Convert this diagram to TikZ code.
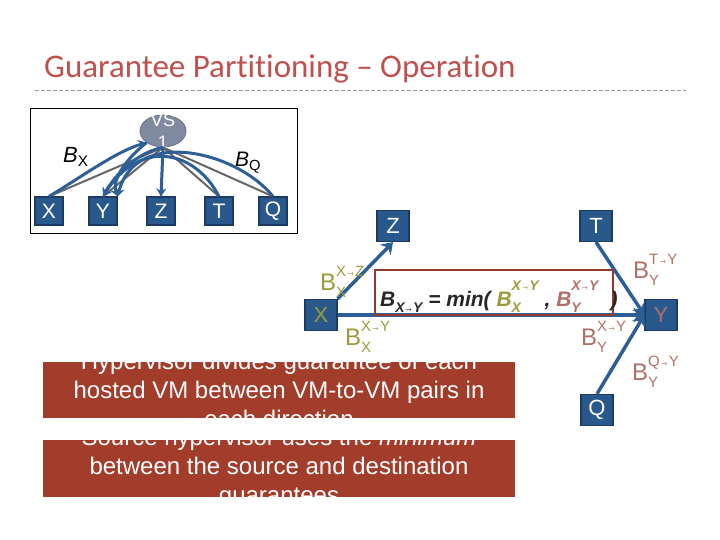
\documentclass[tikz,border=0pt]{standalone}
\usepackage{fontspec}
\setmainfont{Liberation Sans}
\newfontfamily\titlefont[Ligatures={TeX,NoCommon}]{Carlito}
\usetikzlibrary{arrows.meta, shapes.geometric, positioning}
\definecolor{titlered}{RGB}{192,80,77}
\definecolor{vmblue}{RGB}{40,88,140}
\definecolor{vmedge}{RGB}{28,58,98}
\definecolor{linkblue}{RGB}{45,95,150}
\definecolor{vsgray}{RGB}{128,138,160}
\definecolor{notered}{RGB}{162,60,43}
\definecolor{srcolive}{RGB}{155,155,60}
\definecolor{dstrose}{RGB}{176,112,104}
\definecolor{rulered}{RGB}{150,58,45}

% short arrow inside pair labels
\newcommand{\pto}{\scalebox{0.6}[1]{→}}
% B with a pair label above and a VM below
\newcommand{\bw}[2]{B\rlap{\raisebox{0.55em}{\fontsize{15}{15}\selectfont #1}}\raisebox{-0.3em}{\fontsize{15}{15}\selectfont #2}}
\newcommand{\bmin}[2]{B\rlap{\raisebox{-0.33em}{\fontsize{14}{14}\selectfont #2}}\raisebox{0.75em}{\fontsize{14}{14}\selectfont #1}}

\begin{document}
\begin{tikzpicture}[
        x=1pt, y=-1pt,
        vmbox/.style={rectangle, draw=vmedge, fill=vmblue, line width=1.2pt, text=white, minimum width=28pt, minimum height=28pt, inner sep=0pt, font=\fontsize{21}{21}\selectfont},
        bigvm/.style={vmbox, minimum width=32pt, minimum height=31pt, font=\fontsize{22}{22}\selectfont},
        vsnode/.style={ellipse, fill=vsgray, draw=vsgray!80!black, line width=0.8pt, minimum width=46pt, minimum height=32pt, inner sep=0pt},
        vslink/.style={line width=2pt, color=black!60},
        ilink/.style={-{Stealth[length=8pt,width=10pt]}, line width=3pt, linkblue},
        link/.style={-{Stealth[length=11pt,width=15pt]}, line width=3.5pt, linkblue},
        srclbl/.style={anchor=base west, inner sep=0pt, text=srcolive, font=\fontsize{24}{24}\selectfont},
        dstlbl/.style={srclbl, text=dstrose},
        notebox/.style={rectangle, fill=notered, text=white, minimum width=472pt, minimum height=56pt, inner sep=0pt, font=\fontsize{24}{29}\selectfont}
    ]
    \useasboundingbox (0,0) rectangle (720,540);

    % title
    \node[anchor=base west, inner sep=0pt, text=titlered, font=\titlefont\fontsize{33}{33}\selectfont] (title) at (44,78) {Guarantee Partitioning – Operation};
    \draw[black!40, line width=0.8pt, dash pattern=on 4pt off 2pt] (35,90) -- (686,90);

    % inset: hose model
    \draw[line width=0.8pt] (30,108) rectangle (297,233);
    \node[vsnode] (vs) at (163,131) {};
    \node[text=white, align=center, inner sep=0pt, font=\fontsize{18}{22}\selectfont] (vstext) at (vs.center) {VS\\1};
    \node[vmbox] (ix) at (49,211) {X};
    \node[vmbox] (iy) at (103,211) {Y};
    \node[vmbox] (iz) at (161,211) {Z};
    \node[vmbox] (it) at (219,211) {T};
    \node[vmbox] (iq) at (273,211) {Q};

    \foreach \n in {ix,iy,iz,it,iq}
        \draw[vslink] (vs.south) -- (\n.north);

    \draw[ilink] (ix.north) .. controls (80,178) and (115,152) .. (vs.south west);
    \draw[ilink] (vs.south) .. controls (140,152) and (118,170) .. (iy.north);
    \draw[ilink] (vs.south west) .. controls (125,160) and (112,180) .. (iy.north east);
    \draw[ilink] (vs.south) -- (iz.north);
    \draw[ilink] (it.north) .. controls (195,150) and (140,138) .. (iy.north);
    \draw[ilink] (iq.north) .. controls (235,150) and (135,128) .. (iy.north east);

    \node[anchor=base west, inner sep=0pt, font=\fontsize{22}{22}\selectfont] (bx) at (63,163) {\textit{B}\textsubscript{X}};
    \node[anchor=base west, inner sep=0pt, font=\fontsize{21}{21}\selectfont] (bq) at (235,167) {\textit{B}\textsubscript{Q}};

    % partitioning example
    \node[bigvm, text=srcolive] (x) at (321,315) {X};
    \node[bigvm] (z) at (393,226) {Z};
    \node[bigvm] (t) at (596,226) {T};
    \node[bigvm, text=dstrose] (y) at (661,315) {Y};
    \node[bigvm] (q) at (597,410) {Q};

    \draw[link] (x.north east) -- (z.south);
    \draw[link] (x) -- (y);
    \draw[link] (t.south) -- (y.west);
    \draw[link] (q.north) -- (y.west);

    \node[srclbl] (bxz) at (320,290) {\bw{X\pto Z}{X}};
    \node[srclbl] (bxy) at (345,345) {\bw{X\pto Y}{X}};
    \node[dstlbl] (bty) at (633,278) {\bw{T\pto Y}{Y}};
    \node[dstlbl] (byx) at (581,345) {\bw{X\pto Y}{Y}};
    \node[dstlbl] (bqy) at (632,380) {\bw{Q\pto Y}{Y}};

    \node[draw=rulered, line width=2pt, minimum width=238pt, minimum height=45pt, inner sep=0pt] (rulebox) at (494,292.5) {};
    \node[anchor=base west, inner sep=0pt, text=black!85, font=\fontsize{21}{21}\selectfont\bfseries\itshape] (rule) at (380,306)
        {B\raisebox{-0.33em}{\fontsize{14}{14}\selectfont X\pto Y} = min( {\color{srcolive}\bmin{X\pto Y}{X}} , {\color{dstrose}\bmin{X\pto Y}{Y}}\hspace{12pt})};

    % notes
    \node[notebox] (note1) at (279,390) {\parbox[c][56pt][c]{472pt}{\centering Hypervisor divides guarantee of each\\hosted VM between VM-to-VM pairs in\\each direction}};
    \node[notebox] (note2) at (279,468.5) {\parbox[c][57pt][c]{472pt}{\centering Source hypervisor uses the \textit{minimum}\\between the source and destination\\guarantees}};
\end{tikzpicture}
\end{document}
